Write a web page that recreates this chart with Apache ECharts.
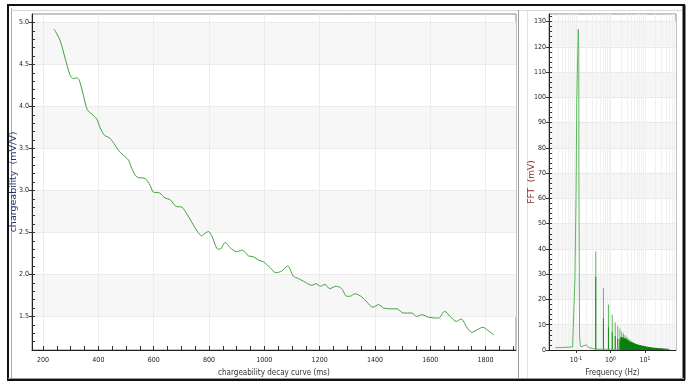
<!DOCTYPE html>
<html>
<head>
<meta charset="utf-8">
<script src="https://cdn.jsdelivr.net/npm/echarts@6/dist/echarts.min.js"></script>
<style>
  * { margin: 0; padding: 0; }
  #chart-container { width: 688px; height: 381px; background: #fff; }
</style>
</head>
<body>
<div id="chart-container"></div>
<script>
  // decay curve (ms, mV/V)
  var decayT = [240, 261, 280, 298, 310, 322, 331, 346, 360, 376, 394, 406, 421, 442, 460, 472, 490, 509, 521, 539,
    569, 587, 599, 621, 641, 659, 681, 702, 720, 738, 756, 774, 782, 798, 810, 828, 840, 858, 876, 900,
    919, 943, 961, 979, 997, 1021, 1042, 1063, 1084, 1105, 1123, 1141, 1172, 1187, 1202, 1220, 1236, 1260, 1280, 1298,
    1310, 1328, 1353, 1371, 1393, 1413, 1431, 1455, 1479, 1503, 1533, 1551, 1570, 1594, 1630, 1652, 1672, 1694, 1712, 1732,
    1750, 1774, 1790, 1810, 1829]
  var decayV = [4.92, 4.79, 4.57, 4.37, 4.33, 4.34, 4.31, 4.13, 3.96, 3.91, 3.85, 3.75, 3.66, 3.62, 3.54, 3.48, 3.42, 3.36, 3.26, 3.16,
    3.14, 3.06, 2.98, 2.97, 2.91, 2.89, 2.81, 2.80, 2.72, 2.62, 2.52, 2.46, 2.48, 2.51, 2.46, 2.31, 2.30, 2.38, 2.32, 2.27,
    2.29, 2.22, 2.21, 2.17, 2.15, 2.08, 2.02, 2.04, 2.10, 1.98, 1.95, 1.92, 1.87, 1.89, 1.86, 1.88, 1.83, 1.86, 1.83, 1.74,
    1.74, 1.77, 1.73, 1.67, 1.61, 1.64, 1.60, 1.59, 1.59, 1.54, 1.54, 1.50, 1.52, 1.49, 1.48, 1.56, 1.50, 1.44, 1.47, 1.37,
    1.31, 1.35, 1.37, 1.33, 1.28]

  // FFT low frequency trace (Hz, mV)
  var fftLowF = [0.025, 0.04, 0.06, 0.08, 0.09, 0.093, 0.094, 0.101, 0.106, 0.113, 0.117, 0.121, 0.122, 0.127, 0.133, 0.14,
    0.16, 0.18, 0.2, 0.23, 0.26, 0.3, 0.33, 0.36, 0.4, 0.6, 1.0, 1.5, 1.9]
  var fftLowA = [0.9, 1.0, 1.1, 1.2, 1.3, 1.5, 29, 64, 100, 118, 127, 118, 69, 6, 2, 1.2,
    1.6, 1.0, 2.0, 1.0, 0.8, 0.6, 0.5, 0.4, 0.3, 0.3, 0.3, 0.3, 0.3]
  // harmonic peaks
  var fftPeakF = [0.375, 0.625, 0.875, 1.125, 1.375, 1.625, 1.875, 2.125, 2.375, 2.625, 2.875, 3.125, 3.375, 3.625,
    3.875, 4.125, 4.375, 4.625, 4.875, 5.125, 5.625, 6.125, 6.625, 7.125, 7.875, 8.875, 9.875]
  var fftPeakA = [39, 24.5, 18, 14, 11, 9.5, 8.5, 7.3, 6.5, 5.8, 5.2, 4.8, 4.4, 4.0,
    3.7, 3.4, 3.2, 3.0, 2.8, 2.6, 2.4, 2.2, 2.0, 1.8, 1.6, 1.4, 1.2]
  var fftPeakDark = [29, 12.6, 9, 7, 5.5, 4.6, 4.2, 3.8, 3.4, 3.2, 3.0, 2.8, 2.6, 2.5,
    2.4, 2.3, 2.2, 2.1, 2.0, 1.9, 1.8, 1.7, 1.6, 1.4, 1.3, 1.1, 1.0]
  // dense high frequency comb envelope
  var fftDenseF = [1.9, 2.0, 2.6, 3.5, 4.5, 6, 8, 11, 16, 25, 35, 47, 52]
  var fftDenseA = [0, 5.0, 4.5, 3.3, 2.6, 2.0, 1.6, 1.2, 0.8, 0.55, 0.4, 0.3, 0]

  // ticks
  var xMajor = [200, 400, 600, 800, 1000, 1200, 1400, 1600, 1800]
  var yMajor = [1.5, 2.0, 2.5, 3.0, 3.5, 4.0, 4.5, 5.0]
  var fftYMajor = [0, 10, 20, 30, 40, 50, 60, 70, 80, 90, 100, 110, 120, 130]
  var fftXMajor = [0.1, 1, 10]
  var supText = { '0.1': '-1', '1': '0', '10': '1' }

  var xMinor = []
  for (var t = 200; t <= 1900; t += 50) xMinor.push(t)
  var yMinor = []
  for (var k = 12; k <= 50; k++) yMinor.push(k / 10)
  var fftYMinor = []
  for (var m = 2; m <= 132; m += 2) fftYMinor.push(m)
  var logGrid = []
  ;[0.01, 0.1, 1, 10].forEach(function (d) {
    for (var i = 1; i <= 9; i++) logGrid.push(+(d * i).toPrecision(3))
  })

  var tickFont = {
    fontFamily: "'Liberation Sans Narrow', 'DejaVu Sans Condensed', sans-serif",
    fontSize: 7,
    color: '#222',
  }

  var chartDom = document.getElementById('chart-container')
  var myChart = echarts.init(chartDom, null, { renderer: 'canvas' })

  var option = {
    animation: false,
    backgroundColor: '#fff',
    grid: [
      { left: 32, top: 14, width: 484, height: 336, show: true, borderColor: '#8a8a8a', borderWidth: 1, backgroundColor: 'transparent', outerBoundsMode: 'none', containLabel: false },
      { left: 549, top: 14, width: 127, height: 336, show: true, borderColor: '#8a8a8a', borderWidth: 1, backgroundColor: 'transparent', outerBoundsMode: 'none', containLabel: false },
    ],
    xAxis: [
      {
        type: 'value', gridIndex: 0, min: 160, max: 1910,
        name: 'chargeability decay curve (ms)', nameLocation: 'middle', nameGap: 19, nameMoveOverlap: false,
        nameTextStyle: { fontFamily: tickFont.fontFamily, fontSize: 8, color: '#333' },
        axisLine: { lineStyle: { color: '#222', width: 1 } },
        axisTick: { show: false, customValues: xMajor },
        axisLabel: Object.assign({ customValues: xMajor, margin: 7, formatter: function (v) { return String(v) } }, tickFont),
        splitLine: { show: true, lineStyle: { color: '#ececec' } },
      },
      {
        type: 'value', gridIndex: 0, min: 160, max: 1910, position: 'bottom',
        axisLine: { show: false },
        axisTick: { show: true, inside: true, length: 4, customValues: xMinor, lineStyle: { color: '#333' } },
        axisLabel: { show: false },
        splitLine: { show: false },
      },
      {
        type: 'log', gridIndex: 1, min: 0.0166, max: 79, logBase: 10,
        name: 'Frequency (Hz)', nameLocation: 'middle', nameGap: 19, nameMoveOverlap: false,
        nameTextStyle: { fontFamily: tickFont.fontFamily, fontSize: 8, color: '#333' },
        axisLine: { lineStyle: { color: '#222', width: 1 } },
        axisTick: { show: true, length: 3, customValues: fftXMajor, lineStyle: { color: '#333' } },
        axisLabel: Object.assign({
          customValues: fftXMajor, margin: 6,
          formatter: function (v) {
            var key = String(+v.toPrecision(3))
            return '10{s|' + supText[key] + '}'
          },
          rich: { s: { fontSize: 5, verticalAlign: 'top', padding: [0, 0, 4, 0], fontFamily: tickFont.fontFamily, color: '#222' } },
        }, tickFont),
        splitLine: { show: false },
      },
      {
        type: 'log', gridIndex: 1, min: 0.0166, max: 79, logBase: 10,
        axisLine: { show: false },
        axisTick: { show: false, customValues: logGrid },
        axisLabel: { show: false },
        splitLine: { show: true, lineStyle: { color: '#f0f0f0' } },
      },
    ],
    yAxis: [
      {
        type: 'value', gridIndex: 0, min: 1.1, max: 5.1,
        name: 'chargeability  (mV/V)', nameLocation: 'middle', nameGap: 13, nameMoveOverlap: false,
        nameTextStyle: { fontFamily: 'DejaVu Sans, sans-serif', fontSize: 9.5, color: '#26336a' },
        axisLine: { lineStyle: { color: '#222', width: 1 } },
        axisTick: { show: true, length: 3, customValues: yMajor, lineStyle: { color: '#333' } },
        axisLabel: Object.assign({
          customValues: yMajor, margin: 3,
          formatter: function (v) { return v.toFixed(1) },
        }, tickFont),
        splitLine: { show: true, lineStyle: { color: '#ececec' } },
        splitArea: { show: true, areaStyle: { color: ['#f7f7f7', '#ffffff'] } },
      },
      {
        type: 'value', gridIndex: 0, min: 1.1, max: 5.1, position: 'left',
        axisLine: { show: false },
        axisTick: { show: true, inside: true, length: 3, customValues: yMinor, lineStyle: { color: '#333' } },
        axisLabel: { show: false },
        splitLine: { show: false },
      },
      {
        type: 'value', gridIndex: 1, min: 0, max: 133,
        name: 'FFT  (mV)', nameLocation: 'middle', nameGap: 13, nameMoveOverlap: false,
        nameTextStyle: { fontFamily: 'DejaVu Sans, sans-serif', fontSize: 9, color: '#8b2a2a' },
        axisLine: { lineStyle: { color: '#222', width: 1 } },
        axisTick: { show: true, length: 3, customValues: fftYMajor, lineStyle: { color: '#333' } },
        axisLabel: Object.assign({ customValues: fftYMajor, margin: 3 }, tickFont),
        splitLine: { show: true, lineStyle: { color: '#e8e8e8' } },
        splitArea: { show: true, areaStyle: { color: ['#f6f6f6', '#ffffff'] } },
      },
      {
        type: 'value', gridIndex: 1, min: 0, max: 133, position: 'left',
        axisLine: { show: false },
        axisTick: { show: true, inside: true, length: 3, customValues: fftYMinor, lineStyle: { color: '#333' } },
        axisLabel: { show: false },
        splitLine: { show: false },
      },
    ],
    series: [
      {
        type: 'line', xAxisIndex: 0, yAxisIndex: 0,
        data: decayT.map(function (t, i) { return [t, decayV[i]] }),
        smooth: 0.3, showSymbol: false,
        lineStyle: { color: '#43a043', width: 1 },
      },
      {
        type: 'line', xAxisIndex: 3, yAxisIndex: 2,
        data: fftDenseF.map(function (f, i) { return [f, fftDenseA[i]] }),
        showSymbol: false,
        lineStyle: { color: '#0b7f0b', width: 1 },
        areaStyle: { color: '#0b7f0b', opacity: 1 },
      },
      {
        type: 'bar', xAxisIndex: 3, yAxisIndex: 2, barWidth: 1, barGap: '-100%',
        data: fftPeakF.map(function (f, i) { return [f, fftPeakA[i]] }),
        itemStyle: { color: '#5cbc5c' },
      },
      {
        type: 'bar', xAxisIndex: 3, yAxisIndex: 2, barWidth: 1, barGap: '-100%',
        data: fftPeakF.map(function (f, i) { return [f, fftPeakDark[i]] }),
        itemStyle: { color: '#168c16' },
      },
      {
        type: 'line', xAxisIndex: 3, yAxisIndex: 2,
        data: fftLowF.map(function (f, i) { return [f, fftLowA[i]] }),
        showSymbol: false,
        lineStyle: { color: '#5cb85c', width: 1 },
      },
    ],
    graphic: [
      { type: 'rect', silent: true, shape: { x: 8, y: 5, width: 676, height: 375 }, style: { fill: null, stroke: '#111', lineWidth: 2 } },
      { type: 'line', silent: true, shape: { x1: 684, y1: 5, x2: 684, y2: 380 }, style: { stroke: '#111', lineWidth: 3 } },
      { type: 'line', silent: true, shape: { x1: 11.5, y1: 8, x2: 11.5, y2: 379 }, style: { stroke: '#aaa', lineWidth: 1 } },
      { type: 'line', silent: true, shape: { x1: 11, y1: 10.5, x2: 682, y2: 10.5 }, style: { stroke: '#d8d8d8', lineWidth: 1 } },
      { type: 'line', silent: true, shape: { x1: 518.5, y1: 10, x2: 518.5, y2: 379 }, style: { stroke: '#9a9a9a', lineWidth: 1 } },
      { type: 'line', silent: true, shape: { x1: 527.5, y1: 10, x2: 527.5, y2: 379 }, style: { stroke: '#e2e2e2', lineWidth: 1 } },
      { type: 'line', silent: true, shape: { x1: 8, y1: 378.5, x2: 684, y2: 378.5 }, style: { stroke: '#999', lineWidth: 1 } },
    ],
  }
  myChart.setOption(option)
  window.addEventListener('resize', myChart.resize)
</script>
</body>
</html>
